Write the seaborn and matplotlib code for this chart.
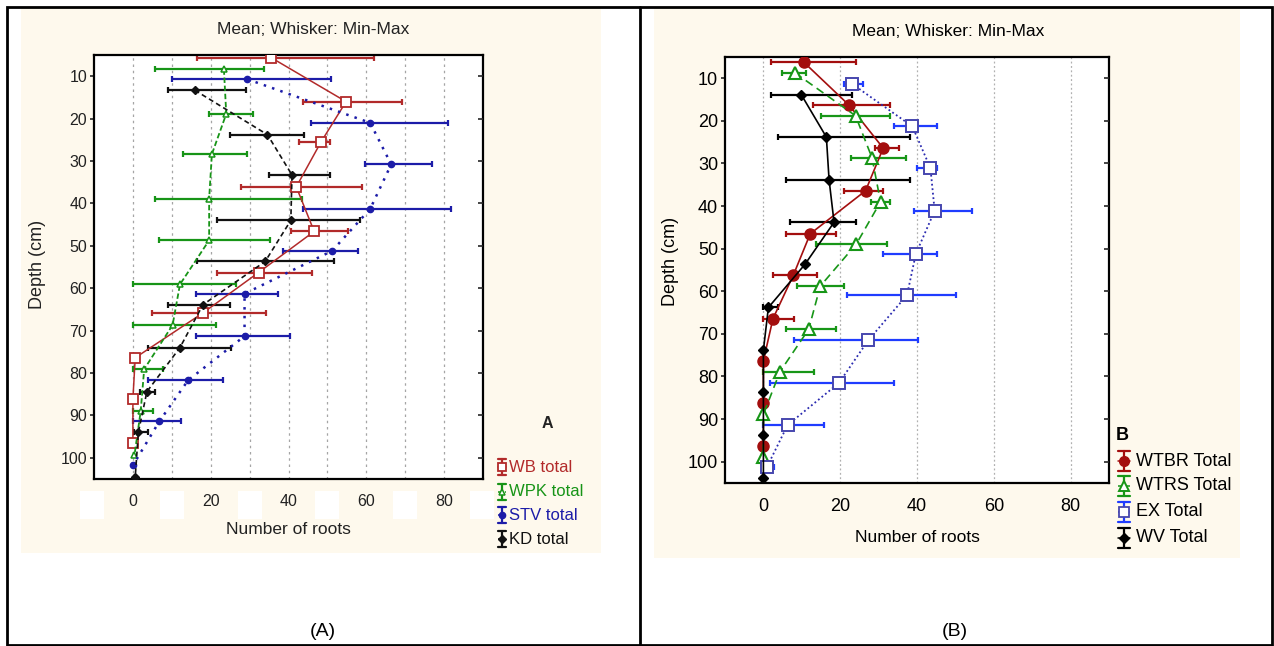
import numpy as np
import pandas as pd
import matplotlib
matplotlib.use("Agg")
import matplotlib.pyplot as plt
import seaborn as sns
from matplotlib.lines import Line2D
from matplotlib.patches import Rectangle

# ---------------- Panel A data (mean, min, max of number of roots vs depth) ----------------
wb_depth = [5.6, 16.0, 25.6, 36.1, 46.6, 56.3, 65.9, 76.4, 86.1, 96.6]
wb_mean = [35.5, 54.8, 48.3, 42.0, 46.6, 32.3, 17.9, 0.6, 0.0, 0.0]
wb_min = [16.6, 43.7, 42.7, 27.8, 40.6, 21.6, 4.9, 0.6, 0.0, 0.0]
wb_max = [61.9, 69.1, 50.6, 58.9, 55.3, 46.1, 34.2, 0.6, 0.0, 0.0]

wpk_depth = [8.4, 18.9, 28.4, 38.9, 48.7, 59.1, 68.7, 79.1, 89.0, 99.4]
wpk_mean = [23.4, 24.0, 20.3, 19.6, 19.6, 12.1, 10.2, 2.9, 2.0, 0.4]
wpk_min = [5.7, 19.5, 12.9, 5.7, 6.8, 0.0, 0.0, 0.0, 0.0, 0.4]
wpk_max = [33.8, 30.8, 29.3, 43.4, 35.2, 26.6, 21.4, 7.8, 5.1, 0.4]

stv_depth = [10.7, 21.0, 30.8, 41.3, 51.2, 61.3, 71.3, 81.7, 91.4, 101.8]
stv_mean = [29.4, 61.0, 66.4, 61.0, 51.2, 28.7, 28.7, 14.2, 6.8, 0.0]
stv_min = [10.0, 45.9, 59.6, 43.7, 38.7, 16.1, 16.1, 3.8, 0.0, 0.0]
stv_max = [51.0, 80.9, 76.8, 81.9, 57.9, 37.4, 40.4, 23.1, 12.3, 0.0]

kd_depth = [13.3, 23.8, 33.3, 44.0, 53.7, 63.9, 74.0, 84.4, 94.0, 104.5]
kd_mean = [15.9, 34.6, 40.9, 40.6, 34.0, 18.0, 12.1, 3.6, 1.4, 0.6]
kd_min = [8.9, 24.9, 35.1, 21.7, 16.6, 8.9, 3.8, 1.9, 0.4, 0.6]
kd_max = [29.1, 44.0, 50.6, 58.5, 51.7, 24.9, 25.1, 5.7, 4.0, 0.6]

# ---------------- Panel B data ----------------
wtbr_depth = [6.2, 16.3, 26.4, 36.4, 46.5, 56.2, 66.4, 76.3, 86.3, 96.2]
wtbr_mean = [10.5, 22.3, 31.2, 26.6, 12.2, 7.8, 2.5, 0.0, 0.0, 0.0]
wtbr_min = [1.9, 12.9, 29.0, 20.9, 5.9, 2.6, 0.0, 0.0, 0.0, 0.0]
wtbr_max = [24.1, 33.0, 35.2, 31.2, 19.0, 13.9, 7.9, 0.0, 0.0, 0.0]

wtrs_depth = [8.7, 18.8, 28.7, 39.0, 48.9, 58.8, 68.9, 78.9, 88.9, 98.9]
wtrs_mean = [8.2, 24.0, 28.3, 30.5, 24.2, 14.8, 11.8, 4.3, 0.0, 0.0]
wtrs_min = [4.8, 14.9, 22.9, 27.9, 13.7, 8.7, 5.9, 0.0, 0.0, 0.0]
wtrs_max = [11.1, 33.0, 37.2, 33.0, 32.1, 21.0, 19.0, 13.1, 0.0, 0.0]

ex_depth = [11.25, 21.3, 31.1, 41.1, 51.2, 60.9, 71.5, 81.5, 91.4, 101.3]
ex_mean = [23.0, 38.8, 43.5, 44.6, 39.7, 37.4, 27.3, 19.7, 6.3, 0.9]
ex_min = [21.0, 34.0, 40.0, 39.1, 31.1, 21.9, 7.9, 1.7, 0.0, 0.0]
ex_max = [26.0, 45.1, 45.1, 54.2, 45.1, 50.2, 40.2, 34.1, 15.9, 2.8]

wv_depth = [13.9, 23.8, 33.8, 43.8, 53.7, 63.8, 73.8, 83.7, 93.8, 103.9]
wv_mean = [9.9, 16.4, 17.1, 18.4, 10.8, 1.3, 0.0, 0.0, 0.0, 0.0]
wv_min = [1.9, 3.8, 5.9, 6.9, 10.8, 0.0, 0.0, 0.0, 0.0, 0.0]
wv_max = [23.1, 38.1, 38.1, 24.1, 10.8, 3.7, 0.0, 0.0, 0.0, 0.0]

labels_a = ["WB total", "WPK total", "STV total", "KD total"]
labels_b = ["WTBR Total", "WTRS Total", "EX Total", "WV Total"]
x_ticks = [0, 20, 40, 60, 80]
y_ticks = [10, 20, 30, 40, 50, 60, 70, 80, 90, 100]
title_text = "Mean; Whisker: Min-Max"

# ---------------- styling ----------------
sns.set_style("ticks")
plt.rcParams["font.family"] = ["Liberation Sans", "DejaVu Sans"]

W, H = 1274, 646
fig = plt.figure(figsize=(W / 100, H / 100), dpi=100)
fig.patch.set_facecolor("white")

def fx(x):
    return x / W

def fy(y):
    return 1 - y / H

CREAM = "#FEF9ED"
# cream panel backgrounds
fig.patches.append(Rectangle((fx(21), fy(553)), (601 - 21) / W, (553 - 8) / H,
                             transform=fig.transFigure, facecolor=CREAM, edgecolor="none", zorder=-3))
fig.patches.append(Rectangle((fx(654), fy(558)), (1240 - 654) / W, (558 - 8) / H,
                             transform=fig.transFigure, facecolor=CREAM, edgecolor="none", zorder=-3))
# white patches over the odd tick positions in panel A
for cx in [92, 172, 250, 327, 405, 482]:
    fig.patches.append(Rectangle((fx(cx - 12), fy(519)), 24 / W, 28 / H, transform=fig.transFigure,
                                 facecolor="white", edgecolor="none", zorder=-2))
# table border
fig.add_artist(Rectangle((fx(7), fy(645)), (1272 - 7) / W, (645 - 7) / H, transform=fig.transFigure,
                         facecolor="none", edgecolor="black", lw=2.0, zorder=5))
fig.add_artist(Line2D([fx(640), fx(640)], [fy(7), fy(645)], color="black", lw=2.0, zorder=5))

axA = fig.add_axes([fx(94), fy(479), (483 - 94) / W, (479 - 55) / H])
axB = fig.add_axes([fx(725), fy(483), (1109 - 725) / W, (483 - 57) / H])
axA.set_zorder(1)
axB.set_zorder(1)


def draw_series(ax, depth, mean, mn, mx, color, ecolor, ls, lw, marker, ms, mfc, mec, mew, capsize):
    depth = np.asarray(depth, float)
    mean = np.asarray(mean, float)
    lo = mean - np.asarray(mn, float)
    hi = np.asarray(mx, float) - mean
    ax.errorbar(mean, depth, xerr=[lo, hi], fmt="none", ecolor=ecolor, elinewidth=1.6,
                capsize=capsize, capthick=1.6, zorder=2)
    df = pd.DataFrame({"roots": mean, "depth": depth})
    sns.lineplot(data=df, x="roots", y="depth", orient="y", sort=True, estimator=None,
                 color=color, linestyle=ls, linewidth=lw, marker=marker, markersize=ms,
                 markerfacecolor=mfc, markeredgecolor=mec, markeredgewidth=mew,
                 ax=ax, zorder=3, legend=False)


# ---- Panel A series
A_RED, A_GREEN, A_BLUE, A_BLACK = "#B22A2A", "#179417", "#1C1CA8", "#111111"
draw_series(axA, wb_depth, wb_mean, wb_min, wb_max, A_RED, A_RED, "-", 1.1, "s", 6.5, "white", A_RED, 1.3, 2)
draw_series(axA, wpk_depth, wpk_mean, wpk_min, wpk_max, A_GREEN, A_GREEN, (0, (3, 1.5)), 1.3, "^", 5, "white", A_GREEN, 1.1, 2)
draw_series(axA, stv_depth, stv_mean, stv_min, stv_max, A_BLUE, A_BLUE, (0, (1, 2.5)), 1.8, "o", 4.5, A_BLUE, A_BLUE, 1.0, 2)
draw_series(axA, kd_depth, kd_mean, kd_min, kd_max, A_BLACK, A_BLACK, (0, (3, 2)), 1.2, "D", 4.5, A_BLACK, A_BLACK, 1.0, 2)

# ---- Panel B series
B_RED, B_GREEN, B_BLUE_E, B_BLUE_M, B_BLUE_L = "#A30E0E", "#179617", "#1F3CFF", "#4646AE", "#2A2AB0"
draw_series(axB, wtbr_depth, wtbr_mean, wtbr_min, wtbr_max, B_RED, B_RED, "-", 1.2, "o", 8, B_RED, B_RED, 1.0, 2)
draw_series(axB, wtrs_depth, wtrs_mean, wtrs_min, wtrs_max, B_GREEN, B_GREEN, (0, (5, 3)), 1.2, "^", 8, "white", B_GREEN, 1.5, 2)
draw_series(axB, ex_depth, ex_mean, ex_min, ex_max, B_BLUE_L, B_BLUE_E, (0, (1, 1.5)), 1.3, "s", 8, "white", B_BLUE_M, 1.4, 2)
draw_series(axB, wv_depth, wv_mean, wv_min, wv_max, "black", "black", "-", 1.2, "D", 5.5, "black", "black", 1.0, 2)

# ---- axes formatting
TXT_A = "#222222"
for ax, txtc, tfs in [(axA, TXT_A, 11.5), (axB, "black", 13)]:
    ax.set_xlim(-10, 90)
    ax.set_ylim(105, 5)
    ax.set_facecolor("white")
    ax.set_xticks(x_ticks)
    ax.set_yticks(y_ticks)
    ax.set_xticklabels([str(t) for t in x_ticks])
    ax.set_yticklabels([str(t) for t in y_ticks])
    for s in ax.spines.values():
        s.set_visible(True)
        s.set_linewidth(1.6)
        s.set_color("black")
    ax.tick_params(axis="x", length=0, pad=10.5, labelsize=tfs, labelcolor=txtc)
    ax.tick_params(axis="y", left=True, right=False, direction="out", length=3, width=1.2,
                   pad=2, labelsize=tfs, labelcolor=txtc)
    ax.set_xlabel("Number of roots", fontsize=12.5, color=txtc, va="center")
    ax.set_ylabel("Depth (cm)", fontsize=13, color=txtc, va="center")
    tw = ax.twinx()
    tw.set_zorder(1.5)
    tw.set_ylim(105, 5)
    tw.set_yticks(y_ticks)
    tw.tick_params(axis="y", right=True, direction="in", length=3.5, width=1.2, labelright=False)
    for s in tw.spines.values():
        s.set_visible(False)

axA.set_xticks([10, 30, 50, 70], minor=True)
axA.tick_params(axis="x", which="minor", length=0)
axA.xaxis.grid(True, which="both", linestyle=(0, (2, 3)), color="#A5A5A5", linewidth=0.9)
axB.xaxis.grid(True, which="major", linestyle=(0, (1.5, 2)), color="#B0B0B0", linewidth=0.9)
axA.set_axisbelow(True)
axB.set_axisbelow(True)

axA.xaxis.set_label_coords(0.5, -0.120)
axA.yaxis.set_label_coords(-0.146, 0.505)
axB.xaxis.set_label_coords(0.5, -0.129)
axB.yaxis.set_label_coords(-0.141, 0.519)

# titles
fig.text(fx(313), fy(30), title_text, ha="center", va="center", fontsize=12.5, color=TXT_A)
fig.text(fx(948), fy(32), title_text, ha="center", va="center", fontsize=12.5, color="black")


def legend_entry(x, y, color, ecolor, ls, marker, ms, mfc, mec, mew, label, tcolor, fs, half, capw, tx):
    fig.add_artist(Line2D([fx(x), fx(x)], [fy(y - half), fy(y + half)], color=ecolor, lw=1.6))
    for yy in (y - half, y + half):
        fig.add_artist(Line2D([fx(x - capw), fx(x + capw)], [fy(yy), fy(yy)], color=ecolor, lw=1.6))
    fig.add_artist(Line2D([fx(x - capw), fx(x + capw)], [fy(y), fy(y)], color=color, lw=1.1, linestyle=ls))
    fig.add_artist(Line2D([fx(x)], [fy(y)], marker=marker, markersize=ms, markerfacecolor=mfc,
                          markeredgecolor=mec, markeredgewidth=mew, linestyle="none"))
    fig.text(fx(tx), fy(y), label, ha="left", va="center", fontsize=fs, color=tcolor)


# Legend A
fig.text(fx(547), fy(424), "A", ha="center", va="center", fontsize=11.5, fontweight="bold", color=TXT_A)
legA = [
    (A_RED, A_RED, "-", "s", 6, "white", A_RED, 1.3),
    (A_GREEN, A_GREEN, (0, (3, 1.5)), "^", 5, "white", A_GREEN, 1.1),
    (A_BLUE, A_BLUE, (0, (1, 2)), "o", 4.5, A_BLUE, A_BLUE, 1.0),
    (A_BLACK, A_BLACK, (0, (3, 2)), "D", 4.5, A_BLACK, A_BLACK, 1.0),
]
for (c, ec, ls, mk, ms, mfc, mec, mew), lab, yy in zip(legA, labels_a, [467, 492, 515, 539]):
    legend_entry(502, yy, c, ec, ls, mk, ms, mfc, mec, mew, lab, c, 12, 8, 4, 509)

# Legend B
fig.text(fx(1122), fy(435), "B", ha="center", va="center", fontsize=13, fontweight="bold", color="black")
legB = [
    (B_RED, B_RED, "-", "o", 7, B_RED, B_RED, 1.0),
    (B_GREEN, B_GREEN, (0, (3, 2)), "^", 7, "white", B_GREEN, 1.4),
    (B_BLUE_L, B_BLUE_E, (0, (1, 1.5)), "s", 7, "white", B_BLUE_M, 1.3),
    ("black", "black", "-", "D", 5, "black", "black", 1.0),
]
for (c, ec, ls, mk, ms, mfc, mec, mew), lab, yy in zip(legB, labels_b, [461, 486, 512, 538]):
    legend_entry(1124, yy, c, ec, ls, mk, ms, mfc, mec, mew, lab, "black", 13, 10, 6, 1136)

# captions
fig.text(fx(323), fy(631), "(A)", ha="center", va="center", fontsize=14, color="black")
fig.text(fx(955), fy(631), "(B)", ha="center", va="center", fontsize=14, color="black")

fig.savefig("out.png", dpi=100, facecolor="white")
